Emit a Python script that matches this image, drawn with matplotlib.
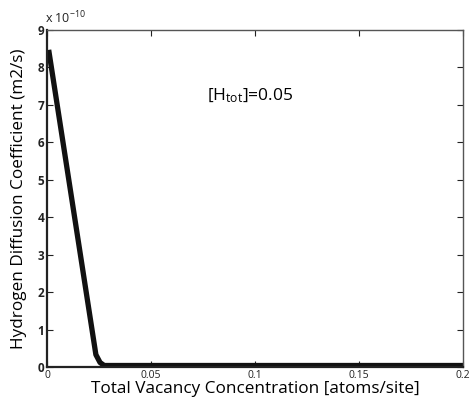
import matplotlib
matplotlib.use("Agg")
import matplotlib.pyplot as plt
from matplotlib.ticker import ScalarFormatter

plt.rcParams['font.family'] = ['Open Sans', 'DejaVu Sans']
plt.rcParams['mathtext.fontset'] = 'custom'
plt.rcParams['mathtext.rm'] = 'Open Sans'
plt.rcParams['mathtext.it'] = 'Open Sans'

# Diffusion coefficient vs. total vacancy concentration
vacancy = [0.001, 0.0235, 0.0255, 0.0275, 0.05, 0.1, 0.15, 0.2]
diffusion = [8.4e-10, 0.33e-10, 0.12e-10, 0.04e-10, 0.04e-10, 0.04e-10, 0.04e-10, 0.04e-10]

x_ticks = [0, 0.05, 0.1, 0.15, 0.2]
x_tick_labels = ['0', '0.05', '0.1', '0.15', '0.2']
y_ticks = [i * 1e-10 for i in range(10)]

fig = plt.figure(figsize=(4.76, 4.04), dpi=100)
ax = fig.add_axes([47 / 476, 37 / 404, 416 / 476, 337 / 404])

ax.plot(vacancy, diffusion, color='#111111', lw=3.8, solid_joinstyle='round')

ax.set_xlim(0, 0.2)
ax.set_ylim(0, 9e-10)
ax.set_xticks(x_ticks)
ax.set_xticklabels(x_tick_labels)
ax.set_yticks(y_ticks)
fmt = ScalarFormatter(useMathText=False)
fmt.set_powerlimits((-3, 3))
ax.yaxis.set_major_formatter(fmt)
ax.yaxis.get_offset_text().set_visible(False)

ax.tick_params(direction='in', top=True, right=True, length=4, width=0.8,
               colors='#222222', labelsize=7.5)
for lbl in ax.get_yticklabels():
    lbl.set_fontsize(8.5)
    lbl.set_fontweight('bold')
ax.tick_params(axis='x', pad=2)
ax.tick_params(axis='y', pad=2)

for side in ['left', 'bottom']:
    ax.spines[side].set_linewidth(1.6)
    ax.spines[side].set_color('#222222')
for side in ['top', 'right']:
    ax.spines[side].set_linewidth(1.0)
    ax.spines[side].set_color('#555555')

# exponent shown above the y axis
ax.text(-0.005, 1.012, r'x 10$^{-10}$', transform=ax.transAxes, fontsize=9,
        ha='left', va='bottom', color='#222222')

ax.set_xlabel('Total Vacancy Concentration [atoms/site]', fontsize=12.3, labelpad=0)
ax.set_ylabel('Hydrogen Diffusion Coefficient (m2/s)', fontsize=12.3)
ax.yaxis.set_label_coords(-0.047, 0.5)

ax.text(0.077, 7.25e-10, r'[H$_{\mathrm{tot}}$]=0.05', fontsize=12.5, va='center', ha='left')

fig.savefig('out.png', dpi=100)
